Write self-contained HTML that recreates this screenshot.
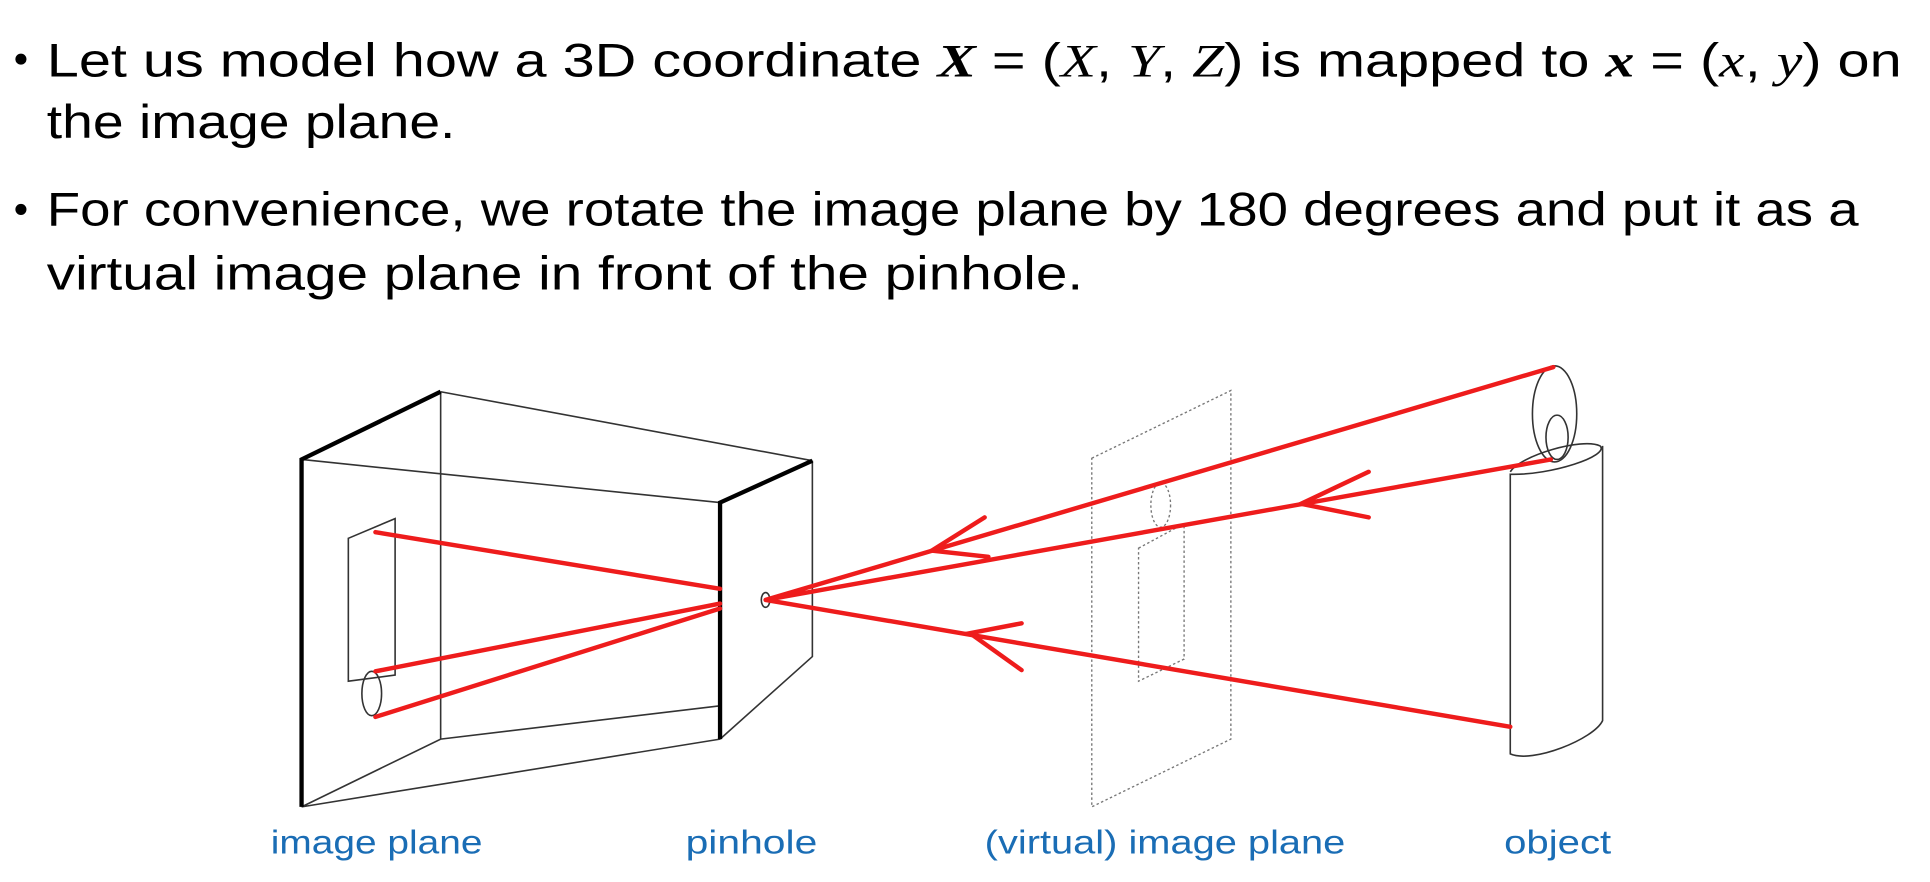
<!DOCTYPE html>
<html><head><meta charset="utf-8"><style>
html,body{margin:0;padding:0;background:#fff;}
svg{display:block;}
.t{font-family:"Liberation Sans",sans-serif;font-size:38px;fill:#000;}
.m{font-family:"Liberation Serif",serif;font-style:italic;}
.lbl{font-family:"Liberation Sans",sans-serif;font-size:27px;fill:#1a6db5;}
.ray{stroke:#ee1c1c;stroke-width:3.6;fill:none;stroke-linecap:round;}
.thin{stroke:#333;stroke-width:1.3;fill:none;}
.thick{stroke:#000;stroke-width:3.5;fill:none;}
.dot{stroke:#777;stroke-width:1.1;fill:none;stroke-dasharray:2 2;}
</style></head><body>
<svg width="1930" height="882" viewBox="0 0 1568 716" preserveAspectRatio="none">
<g>
<circle cx="17" cy="48" r="4.5" fill="#000"/>
<text class="t" x="38" y="62" textLength="1507" lengthAdjust="spacingAndGlyphs">Let us model how a 3D coordinate <tspan class="m" font-weight="bold">X</tspan> = (<tspan class="m">X</tspan>, <tspan class="m">Y</tspan>, <tspan class="m">Z</tspan>) is mapped to <tspan class="m" font-weight="bold">x</tspan> = (<tspan class="m">x</tspan>, <tspan class="m">y</tspan>) on</text>
<text class="t" x="38" y="112" textLength="332" lengthAdjust="spacingAndGlyphs">the image plane.</text>
<circle cx="17" cy="170" r="4.5" fill="#000"/>
<text class="t" x="38" y="183" textLength="1472" lengthAdjust="spacingAndGlyphs">For convenience, we rotate the image plane by 180 degrees and put it as a</text>
<text class="t" x="38" y="235" textLength="842" lengthAdjust="spacingAndGlyphs">virtual image plane in front of the pinhole.</text>
</g>
<g>
<path class="thin" d="M358,318 L660,374 M245,373 L585,408 M358,318 L358,600 M660,374 L660,533 L585,600 M245,655 L358,600 L585,573 M245,655 L585,600"/>
<path class="thick" d="M245,655 L245,373 L358,318 M585,600 L585,408 L660,374"/>
<path class="thin" d="M283,437 L321,421 L321,548 L283,553 Z"/>
<ellipse class="thin" cx="302" cy="563" rx="8" ry="18"/>
<ellipse class="thin" cx="622" cy="487" rx="3.5" ry="6"/>
</g>
<g>
<path class="dot" d="M887,372 L1000,317 L1000,600 L887,655 Z"/>
<path class="dot" d="M925,445 L962,425 L962,535 L925,553 Z"/>
<ellipse class="dot" cx="943" cy="410" rx="8" ry="18"/>
</g>
<g>
<ellipse class="thin" cx="1263" cy="336" rx="18" ry="39"/>
<ellipse class="thin" cx="1265" cy="355" rx="9" ry="18"/>
<path class="thin" d="M1227,383 C1235,370 1285,355 1300,362 C1308,370 1260,386 1227,385 L1227,612 C1245,620 1295,600 1302,585 L1302,362"/>
</g>
<g>
<path class="ray" d="M305,432 L585,478 M305,545 L585,490 M305,582 L585,494"/>
<path class="ray" d="M622,487 L1262,298 M622,487 L1260,373 M622,487 L1227,590"/>
<path class="ray" d="M800,420 L757,447 L803,452"/>
<path class="ray" d="M1112,383 L1057,409 L1112,420"/>
<path class="ray" d="M830,506 L788,514 L830,544"/>
</g>
<g>
<text class="lbl" x="220" y="693" textLength="172" lengthAdjust="spacingAndGlyphs">image plane</text>
<text class="lbl" x="557" y="693" textLength="107" lengthAdjust="spacingAndGlyphs">pinhole</text>
<text class="lbl" x="800" y="693" textLength="293" lengthAdjust="spacingAndGlyphs">(virtual) image plane</text>
<text class="lbl" x="1222" y="693" textLength="87" lengthAdjust="spacingAndGlyphs">object</text>
</g>
</svg>
</body></html>
